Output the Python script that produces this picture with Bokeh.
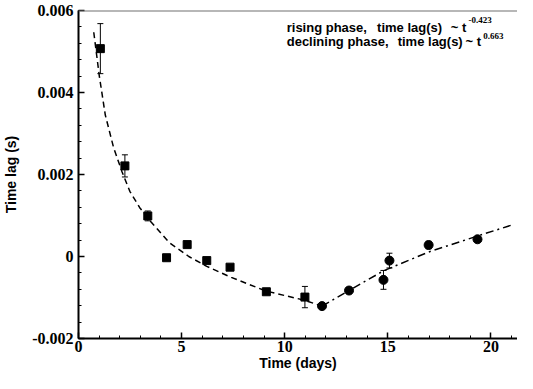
import numpy as np
from bokeh.plotting import figure
from bokeh.models import ColumnDataSource, Whisker, TeeHead, Span, Label, FixedTicker, Range1d
from bokeh.embed import file_html
from bokeh.resources import INLINE

# ---- data ----
RISE_T = [1.06, 2.25, 3.36, 4.27, 5.27, 6.22, 7.35, 9.11, 10.98]
RISE_LAG = [0.00507, 0.00221, 0.00099, -0.00003, 0.00029, -0.00010, -0.00026, -0.00086, -0.00099]
RISE_ERR = [0.00061, 0.00027, 0.00012, 0.00003, 0.00003, 0.00007, 0.00003, 0.00002, 0.00026]

DECL_T = [11.81, 13.12, 14.79, 15.08, 16.98, 19.35]
DECL_LAG = [-0.00121, -0.00083, -0.00057, -0.00010, 0.00028, 0.00042]
DECL_ERR = [0.00003, 0.00002, 0.00023, 0.00018, 0.00009, 0.00005]

# fitted curves
RISE_FIT_T = [0.74, 1.01, 1.30, 1.70, 2.10, 2.49, 2.97, 3.52, 4.40, 5.35, 6.22, 7.41, 9.08, 10.98, 11.81]
RISE_FIT_LAG = [0.00547, 0.00440, 0.00345, 0.00266, 0.00208, 0.00159, 0.00119, 0.00084, 0.00034,
                0.00000, -0.00024, -0.00051, -0.00084, -0.00107, -0.00121]
DECL_FIT_T = [11.81, 13.12, 14.79, 16.98, 19.35, 21.03]
DECL_FIT_LAG = [-0.00121, -0.00083, -0.00035, 0.00011, 0.00050, 0.00077]

X_TICKS = [0, 5, 10, 15, 20]
X_TICK_LABELS = ["0", "5", "10", "15", "20"]
Y_TICKS = [-0.002, 0.0, 0.002, 0.004, 0.006]
Y_TICK_LABELS = ["-0.002", "0", "0.002", "0.004", "0.006"]

RISE_LABEL = ["rising phase,", "time lag(s)", "~ t"]
DECL_LABEL = ["declining phase,", "time lag(s)", "~ t"]
RISE_EXP = "-0.423"
DECL_EXP = "0.663"

# ---- layout ----
X0, X1 = 0.0, 21.29
Y0, Y1 = -0.0020001, 0.0060001
FRAME_L, FRAME_R, FRAME_T, FRAME_B = 78, 525, 18, 345

def dx(px):
    return X0 + (px - FRAME_L) / (FRAME_R - FRAME_L) * (X1 - X0)

def dy(py):
    return Y1 - (py - FRAME_T) / (FRAME_B - FRAME_T) * (Y1 - Y0)

p = figure(width=517, height=373, output_backend="svg", toolbar_location=None,
           x_range=Range1d(X0, X1), y_range=Range1d(Y0, Y1),
           min_border_left=70, min_border_right=0, min_border_top=10, min_border_bottom=0,
           background_fill_color="white", border_fill_color="white")
p.outline_line_color = None
p.grid.visible = False

x_minor = list(np.arange(0, 22, 1.0))
y_minor = list(np.round(np.arange(-0.002, 0.00601, 0.0004), 6))
p.xaxis.ticker = FixedTicker(ticks=X_TICKS, minor_ticks=x_minor)
p.yaxis.ticker = FixedTicker(ticks=Y_TICKS, minor_ticks=y_minor)
p.xaxis.major_label_overrides = {t: l for t, l in zip(X_TICKS, X_TICK_LABELS)}
p.yaxis.major_label_overrides = {t: l for t, l in zip(Y_TICKS, Y_TICK_LABELS)}

for ax in (p.xaxis[0], p.yaxis[0]):
    ax.axis_line_width = 2
    ax.axis_line_color = "black"
    ax.major_tick_in = 6
    ax.major_tick_out = 0
    ax.minor_tick_in = 3
    ax.minor_tick_out = 0
    ax.major_tick_line_width = 1.5
    ax.minor_tick_line_width = 1
    ax.major_tick_line_color = "black"
    ax.minor_tick_line_color = "black"
    ax.major_label_text_font = "Liberation Serif"
    ax.major_label_text_font_style = "bold"
    ax.major_label_text_font_size = "16px"
    ax.major_label_text_color = "black"
    ax.axis_label_text_font = "Liberation Sans"
    ax.axis_label_text_font_style = "bold"
    ax.axis_label_text_font_size = "14px"
    ax.axis_label_text_color = "black"

p.xaxis.axis_label = "Time (days)"
p.yaxis.axis_label = "Time lag (s)"
p.xaxis.major_label_standoff = 2
p.xaxis.axis_label_standoff = 0
p.yaxis.major_label_standoff = 5
p.yaxis.axis_label_standoff = 10

p.add_layout(Span(location=0.006, dimension="width", line_color="#707070", line_width=2))

# fitted curves
p.line(RISE_FIT_T, RISE_FIT_LAG, line_color="black", line_width=1.5, line_dash="6 4")
p.line(DECL_FIT_T, DECL_FIT_LAG, line_color="black", line_width=1.5, line_dash="8 4 2 4")

# error bars
rise_src = ColumnDataSource(dict(t=RISE_T, lag=RISE_LAG,
                                 lo=[v - e for v, e in zip(RISE_LAG, RISE_ERR)],
                                 hi=[v + e for v, e in zip(RISE_LAG, RISE_ERR)]))
decl_src = ColumnDataSource(dict(t=DECL_T, lag=DECL_LAG,
                                 lo=[v - e for v, e in zip(DECL_LAG, DECL_ERR)],
                                 hi=[v + e for v, e in zip(DECL_LAG, DECL_ERR)]))
for src in (rise_src, decl_src):
    w = Whisker(source=src, base="t", lower="lo", upper="hi", dimension="height",
                line_color="black", line_width=1,
                lower_head=TeeHead(size=6, line_color="black", line_width=1),
                upper_head=TeeHead(size=6, line_color="black", line_width=1))
    p.add_layout(w)

p.scatter("t", "lag", source=rise_src, marker="square", size=8,
          fill_color="black", line_color="black")
p.scatter("t", "lag", source=decl_src, marker="circle", size=9,
          fill_color="black", line_color="black")

# annotation text
def add_text(txt, px, py, font="Liberation Sans", size="13px"):
    p.add_layout(Label(x=dx(px), y=dy(py), text=txt, text_font=font,
                       text_font_style="bold", text_font_size=size,
                       text_color="black", text_baseline="alphabetic", text_align="left"))

for txt, px in zip(RISE_LABEL, [290, 382, 457]):
    add_text(txt, px, 35)
for txt, px in zip(DECL_LABEL, [290, 403, 472]):
    add_text(txt, px, 49)
add_text(RISE_EXP, 475, 27, font="Liberation Serif", size="9px")
add_text(DECL_EXP, 490, 43, font="Liberation Serif", size="9px")

open("out.html", "w").write(file_html(p, INLINE))
